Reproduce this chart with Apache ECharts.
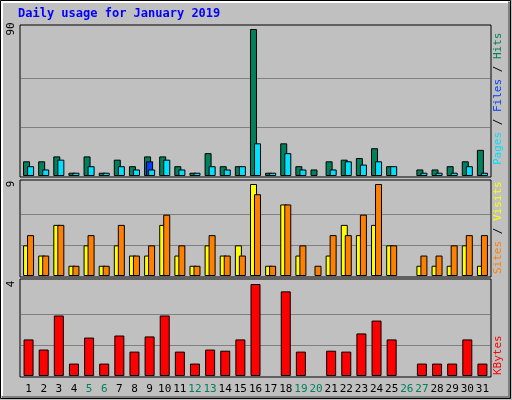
<!DOCTYPE html><html><head><meta charset="utf-8">
<script src="https://cdn.jsdelivr.net/npm/echarts@6/dist/echarts.min.js"></script>
<style>body{margin:0;background:#C0C0C0}#c{width:512px;height:400px}</style></head><body><div id="c"></div>
<script>
const days=['1','2','3','4','5','6','7','8','9','10','11','12','13','14','15','16','17','18','19','20','21','22','23','24','25','26','27','28','29','30','31'];
const weekend=['5','6','12','13','19','20','26','27'];
const hits=[9,9,12,2,12,2,10,6,12,12,6,2,14,6,6,90,2,20,6,4,9,10,11,17,6,0,4,4,6,9,16];
const pages=[0,0,0,0,0,0,0,0,9,0,0,0,0,0,0,0,0,0,0,0,0,0,0,0,0,0,0,0,0,0,0];
const files=[6,4,10,2,6,2,6,4,4,10,4,2,6,4,6,20,2,14,4,0,4,9,7,9,6,0,2,2,2,6,2];
const sites=[3,2,5,1,3,1,3,2,2,5,2,1,3,2,3,9,1,7,2,0,2,5,4,5,3,0,1,1,1,3,1];
const visits=[4,2,5,1,4,1,5,2,3,6,3,1,4,2,2,8,1,7,3,1,4,4,6,9,3,0,2,2,3,4,4];
const kbytes=[1.59,1.15,2.63,0.54,1.67,0.54,1.76,1.06,1.72,2.63,1.06,0.54,1.15,1.1,1.59,4,0,3.68,1.06,0,1.1,1.06,1.85,2.41,1.59,0,0.54,0.54,0.54,1.59,0.54];
const maxes=[90,9,4];
const F='DejaVu Sans Mono';
const ch=echarts.init(document.getElementById('c'));
const tops=[29,184,284],hs=[147,92,92];
const grids=tops.map((t,i)=>({left:21,right:22,top:t,height:hs[i]}));
const xAxes=[0,1,2].map(i=>({type:'category',gridIndex:i,data:days,axisLine:{show:false},axisTick:{show:false},
 axisLabel:{show:i===2,interval:0,margin:8,fontFamily:F,fontSize:11,color:v=>weekend.includes(v)?'#00805c':'#000'}}));
const yAxes=[0,1,2].map(i=>({type:'value',gridIndex:i,min:0,max:maxes[i],interval:maxes[i]/3,
 axisLine:{show:false},axisTick:{show:false},
 splitLine:{show:true,lineStyle:{color:['transparent','#808080','#808080','transparent'],width:1}},
 axisLabel:{rotate:90,margin:4,fontFamily:F,fontSize:11,color:'#000',verticalAlign:'bottom',
  formatter:v=>Math.abs(v-maxes[i])<1e-6?String(maxes[i]):''}}));
const bs={borderColor:'#000',borderWidth:1};
const nz=a=>a.map(v=>v===0?null:v);
function bar(name,data,ax,color,w,gap){return {name,type:'bar',xAxisIndex:ax,yAxisIndex:ax,data:nz(data),barWidth:w,barGap:gap,itemStyle:Object.assign({color},bs),silent:true,animation:false};}
function panel(y,h){return {type:'rect',shape:{x:20,y:y,width:471,height:h},style:{fill:'#C0C0C0',stroke:'#000',lineWidth:1},z:-10};}
const rf='11px "DejaVu Sans Mono"';
ch.setOption({
 animation:false,
 grid:grids,xAxis:xAxes,yAxis:yAxes,
 graphic:[
  {type:'rect',shape:{x:0.5,y:0.5,width:510,height:398},style:{fill:'#C0C0C0',stroke:'#000',lineWidth:1},z:-20},
  {type:'polyline',shape:{points:[[2,396],[2,2],[508,2]]},style:{stroke:'#fff',fill:null,lineWidth:2},z:-19},
  {type:'polyline',shape:{points:[[2,397],[509,397],[509,2]]},style:{stroke:'#808080',fill:null,lineWidth:2},z:-19},
  panel(25,152),panel(180,97),panel(279,98),
  {type:'text',left:18,top:8,style:{text:'Daily usage for January 2019',font:'bold 12px "DejaVu Sans Mono"',fill:'#0000ff'}},
  {type:'text',x:493,y:165,rotation:Math.PI/2,style:{text:'{a|Pages}{h| / }{b|Files}{h| / }{c|Hits}',font:rf,
    rich:{a:{fill:'#00e0ff',font:rf},b:{fill:'#0040ff',font:rf},c:{fill:'#00805c',font:rf},h:{fill:'#000',font:rf}}}},
  {type:'text',x:493,y:274,rotation:Math.PI/2,style:{text:'{a|Sites}{h| / }{b|Visits}',font:rf,
    rich:{a:{fill:'#ff8000',font:rf},b:{fill:'#ffff00',font:rf},h:{fill:'#000',font:rf}}}},
  {type:'text',x:493,y:375,rotation:Math.PI/2,style:{text:'KBytes',font:rf,fill:'#ff0000'}}
 ],
 series:[
  bar('Hits',hits,0,'#00805c',7,'-71%'),
  bar('Pages',pages,0,'#0040ff',7,'-71%'),
  bar('Files',files,0,'#00e0ff',7,'-71%'),
  bar('Sites',sites,1,'#ffff00',7,'-43%'),
  bar('Visits',visits,1,'#ff8000',7,'-43%'),
  bar('KBytes',kbytes,2,'#ff0000',10,'0%')
 ]
});
</script></body></html>
